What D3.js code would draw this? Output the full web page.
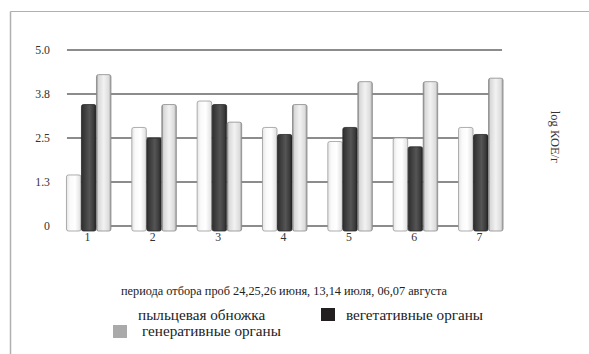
<!DOCTYPE html>
<html><head><meta charset="utf-8">
<script src="https://cdn.jsdelivr.net/npm/d3@7"></script>
<style>
html,body{margin:0;padding:0;background:#fff;}
svg text{font-family:"Liberation Serif","Times New Roman","DejaVu Serif",serif !important;}
</style></head>
<body>
<svg id="c" width="589" height="354"></svg>
<script>
const categories = ["1","2","3","4","5","6","7"];
const seriesNames = ["пыльцевая обножка","вегетативные органы","генеративные органы"];
const pollen =     [1.45, 2.8, 3.55, 2.8, 2.4, 2.5, 2.8];
const vegetative = [3.45, 2.5, 3.45, 2.6, 2.8, 2.25, 2.6];
const generative = [4.3, 3.45, 2.95, 3.45, 4.1, 4.1, 4.2];
const yTicks = [0, 1.25, 2.5, 3.75, 5];
const yTickLabels = ["0","1.3","2.5","3.8","5.0"];
const yTitle = "log КОЕ/г";
const caption = "периода отбора проб 24,25,26 июня, 13,14 июля, 06,07 августа";

const series = [pollen, vegetative, generative];
const svg = d3.select("#c");
const FF = "'Liberation Serif','Times New Roman',serif";

const defs = svg.append("defs");
function grad(id, stops){
  const g = defs.append("linearGradient").attr("id", id).attr("x1","0").attr("x2","1").attr("y1","0").attr("y2","0");
  stops.forEach(([o,c]) => g.append("stop").attr("offset", o).attr("stop-color", c));
}
grad("g0", [[0,"#e4e4e4"],[0.25,"#fafafa"],[0.6,"#ffffff"],[1,"#dedede"]]);
grad("g1", [[0,"#2e2e2e"],[0.2,"#3c3c3c"],[0.55,"#555555"],[0.85,"#3a3a3a"],[1,"#1e1e1e"]]);
grad("g2", [[0,"#7a7a7a"],[0.12,"#d8d8d8"],[0.5,"#f2f2f2"],[0.85,"#dcdcdc"],[1,"#9a9a9a"]]);
const strokes = ["#999999","#2a2a2a","#8a8a8a"];

// frame
svg.append("line").attr("x1",10.5).attr("x2",589).attr("y1",11.5).attr("y2",11.5).attr("stroke","#b0b0b0").attr("stroke-width",1);
svg.append("line").attr("x1",10.5).attr("x2",10.5).attr("y1",11.5).attr("y2",354).attr("stroke","#b0b0b0").attr("stroke-width",1.5);

const y = d3.scaleLinear().domain([0,5]).range([226,50]);
const x0 = d3.scaleBand().domain(categories).range([55.8,513.2]).paddingInner(0.311).paddingOuter(0.1555);
const x1 = d3.scaleBand().domain([0,1,2]).range([0,x0.bandwidth()]);

const gridX1 = x0(categories[0]) + 1, gridX2 = x0(categories[categories.length-1]) + x0.bandwidth() - 1;

svg.append("g").selectAll("line").data(yTicks).join("line")
  .attr("x1", gridX1).attr("x2", gridX2)
  .attr("y1", d => y(d)).attr("y2", d => y(d))
  .attr("stroke","#8c8c8c").attr("stroke-width",1.8);

const yAxis = d3.axisLeft(y).tickValues(yTicks).tickFormat((d,i)=>yTickLabels[i]).tickSize(0).tickPadding(0);
const ya = svg.append("g").attr("transform","translate(50,0)").call(yAxis).attr("font-family", FF);
ya.select(".domain").remove();
ya.selectAll("text").attr("font-size",11.8).attr("fill","#333");

const base = y(0) + 5;
const groups = svg.append("g").selectAll("g").data(categories).join("g")
  .attr("transform", d => `translate(${x0(d)},0)`);
groups.selectAll("rect").data((d,i) => series.map((s,k) => ({k, v: s[i]}))).join("rect")
  .attr("x", d => x1(d.k) + 0.5)
  .attr("width", x1.bandwidth() - 0.5)
  .attr("y", d => y(d.v))
  .attr("height", d => base - y(d.v))
  .attr("rx", 2).attr("ry", 2)
  .attr("fill", d => `url(#g${d.k})`)
  .attr("stroke", d => strokes[d.k]).attr("stroke-width", 0.8);

const xAxis = d3.axisBottom(x0).tickSize(0).tickPadding(0);
const xa = svg.append("g").attr("transform", `translate(-1,${base+2})`).call(xAxis).attr("font-family", FF);
xa.select(".domain").remove();
xa.selectAll("text").attr("font-size",11.8).attr("fill","#333");

svg.append("text").attr("transform","translate(551,137) rotate(90)").attr("font-family", FF)
  .attr("text-anchor","middle").attr("font-size",12.5).attr("fill","#333").text(yTitle);

svg.append("text").attr("x",121).attr("y",295).attr("font-family", FF).attr("font-size",12.3).attr("fill","#222").text(caption);

const legendItems = [
  {name: seriesNames[0], sx: 113, sy: 308, tx: 138, ty: 320, fill: "#ffffff"},
  {name: seriesNames[1], sx: 321, sy: 308, tx: 346, ty: 320, fill: "#231f20"},
  {name: seriesNames[2], sx: 113, sy: 325, tx: 142, ty: 336, fill: "#aaaaaa"}
];
const lg = svg.append("g").attr("font-family", FF);
lg.selectAll("rect").data(legendItems).join("rect")
  .attr("x", d => d.sx).attr("y", d => d.sy).attr("width",14).attr("height",13).attr("fill", d => d.fill);
lg.selectAll("text").data(legendItems).join("text")
  .attr("x", d => d.tx).attr("y", d => d.ty).attr("font-size",15.2).attr("fill","#222").text(d => d.name);
</script>
</body></html>
